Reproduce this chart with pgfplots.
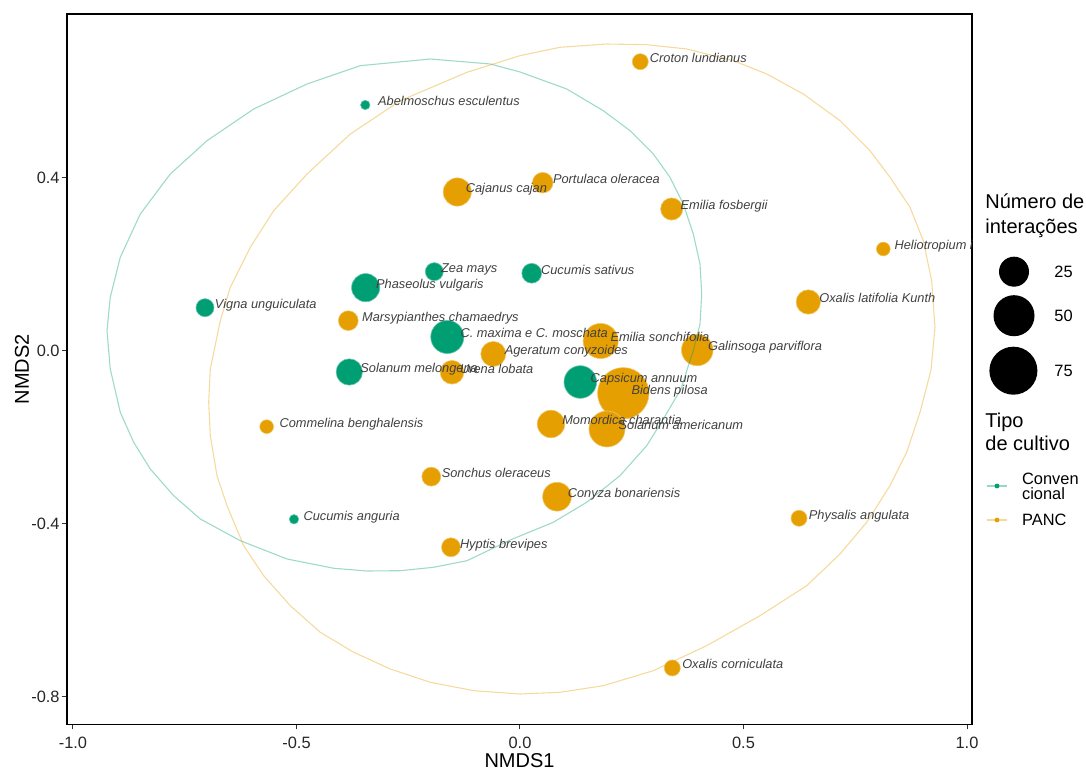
\documentclass[border=0pt]{standalone}
\usepackage{pgfplots}
\pgfplotsset{compat=1.18}
\usepackage{pgfplotstable}
\usepackage{fontspec}
\setmainfont{Liberation Sans}
\definecolor{conv}{HTML}{009E73}
\definecolor{panc}{HTML}{E69F00}
\newcommand\hj[1]{\setbox0\hbox{#1}\hspace*{0.07\wd0}\box0}

\pgfplotstableread[col sep=comma]{
x,y,n,label
-0.3461,0.5688,1,Abelmoschus esculentus
-0.1917,0.1834,8,Zea mays
0.0262,0.1797,10,Cucumis sativus
-0.3452,0.1464,22,Phaseolus vulgaris
-0.7047,0.1001,8,Vigna unguiculata
-0.1626,0.0324,31,C. maxima e C. moschata
-0.3819,-0.0486,19,Solanum melongena
0.1349,-0.0717,30,Capsicum annuum
-0.5056,-0.3891,1,Cucumis anguria
}\conv

\pgfplotstableread[col sep=comma]{
x,y,n,label
0.2691,0.6689,6,Croton lundianus
-0.1403,0.3676,22,Cajanus cajan
0.0508,0.3891,11,Portulaca oleracea
0.3394,0.3283,13,Emilia fosbergii
0.8128,0.2358,4,Heliotropium indicum
0.6450,0.1133,16,Oxalis latifolia Kunth
-0.3841,0.0701,10,Marsypianthes chamaedrys
0.1805,0.0231,35,Emilia sonchifolia
0.3966,0.0023,28,Galinsoga parviflora
-0.0597,-0.0069,17,Ageratum conyzoides
-0.1521,-0.0492,15,Urena lobata
0.2311,-0.0978,77,Bidens pilosa
-0.5667,-0.1750,4,Commelina benghalensis
0.0694,-0.1688,21,Momordica charantia
0.1946,-0.1803,37,Solanum americanum
-0.1984,-0.2906,9,Sonchus oleraceus
0.0828,-0.3369,23,Conyza bonariensis
0.6242,-0.3868,6,Physalis angulata
-0.1544,-0.4539,9,Hyptis brevipes
0.3407,-0.7329,6,Oxalis corniculata
}\panc

\pgfplotstableread{
x y
-0.2007 0.6751
-0.3573 0.6597
-0.4765 0.6173
-0.5957 0.5595
-0.7002 0.4862
-0.7823 0.4092
-0.8494 0.3168
-0.8942 0.2166
-0.9166 0.1242
-0.9239 0.0469
-0.9166 -0.0416
-0.8942 -0.1417
-0.8642 -0.2111
-0.8271 -0.2728
-0.7747 -0.3346
-0.7152 -0.3884
-0.6257 -0.4386
-0.5213 -0.4809
-0.4168 -0.5024
-0.3423 -0.5087
-0.2678 -0.5080
-0.1931 -0.5001
-0.1186 -0.4849
-0.0217 -0.4369
0.0745 -0.3961
0.1492 -0.3498
0.2237 -0.2883
0.2834 -0.2190
0.3206 -0.1572
0.3602 -0.0879
0.3736 -0.0439
0.3877 0.0007
0.4027 0.0624
0.4065 0.1318
0.4027 0.2012
0.3877 0.2705
0.3653 0.3399
0.3356 0.4016
0.2982 0.4555
0.2461 0.5094
0.1864 0.5556
0.1045 0.6058
0.0000 0.6451
-0.0664 0.6636
-0.2007 0.6751
}\ellconv

\pgfplotstableread{
x y
0.1940 0.7098
0.2834 0.7082
0.3729 0.6983
0.4772 0.6712
0.5519 0.6405
0.6338 0.5942
0.7159 0.5325
0.7830 0.4631
0.8277 0.4016
0.8725 0.3323
0.9022 0.2550
0.9210 0.1625
0.9284 0.0548
0.9195 -0.0439
0.8949 -0.1417
0.8651 -0.2342
0.8277 -0.3114
0.7756 -0.3961
0.7159 -0.4694
0.6414 -0.5427
0.5369 -0.6120
0.4177 -0.6814
0.2982 -0.7392
0.1864 -0.7739
0.0895 -0.7891
0.0000 -0.7931
-0.1036 -0.7854
-0.2007 -0.7660
-0.2902 -0.7353
-0.3720 -0.6966
-0.4468 -0.6504
-0.5139 -0.5889
-0.5734 -0.5195
-0.6181 -0.4502
-0.6555 -0.3577
-0.6779 -0.2883
-0.6928 -0.1958
-0.6964 -0.1186
-0.6928 -0.0416
-0.6705 0.0701
-0.6481 0.1473
-0.6034 0.2398
-0.5510 0.3244
-0.4765 0.4092
-0.3796 0.5017
-0.2678 0.5787
-0.1186 0.6444
0.0000 0.6828
0.0895 0.7022
0.1940 0.7098
}\ellpanc

\begin{document}
\begin{tikzpicture}
\useasboundingbox (-33.5pt,-22.75pt) rectangle (509.5pt,362.25pt);
\begin{axis}[
  scale only axis,
  width=452.5pt, height=355.25pt,
  xmin=-1.0134, xmax=1.0112,
  ymin=-0.8636, ymax=0.7792,
  xtick={-1,-0.5,0,0.5,1},
  xticklabels={-1.0,-0.5,0.0,0.5,1.0},
  ytick={-0.8,-0.4,0,0.4},
  yticklabels={-0.8,-0.4,0.0,0.4},
  tick pos=left,
  tick align=outside,
  major tick length=2.5pt,
  tick style={black!80, line width=0.5pt},
  axis line style={black, line width=0.6pt},
  ticklabel style={font=\fontsize{8.2}{9}\selectfont, text=black!85},
  xticklabel style={anchor=base, inner sep=0pt, yshift=-9.7pt},
  yticklabel style={anchor=east, inner sep=0pt, xshift=-1pt},
  clip marker paths=true,
  clip mode=global,
]
\addplot[scatter, only marks, mark=*, point meta=\thisrow{n},
  scatter/use mapped color={draw=conv!60!white, fill=conv},
  mark options={line width=0.3pt},
  visualization depends on={\thisrow{n} \as \ninter},
  scatter/@pre marker code/.append style={/tikz/mark size={0.5*sqrt(14+8.4*\ninter)}}]
  table[x=x,y=y]{\conv};
\addplot[scatter, only marks, mark=*, point meta=\thisrow{n},
  scatter/use mapped color={draw=panc!60!white, fill=panc},
  mark options={line width=0.3pt},
  visualization depends on={\thisrow{n} \as \ninter},
  scatter/@pre marker code/.append style={/tikz/mark size={0.5*sqrt(14+8.4*\ninter)}}]
  table[x=x,y=y]{\panc};
\addplot[conv, draw opacity=0.38, line width=0.55pt, mark=none] table[x=x,y=y]{\ellconv};
\addplot[panc, draw opacity=0.38, line width=0.55pt, mark=none] table[x=x,y=y]{\ellpanc};
\addplot[draw=none, mark=none,
  point meta=explicit symbolic,
  nodes near coords={\hj{\pgfplotspointmeta}},
  every node near coord/.append style={anchor=west, inner sep=0pt, xshift=1.25pt, yshift=2.5pt,
    text height=1.55ex, text depth=0.45ex,
    font=\fontsize{6.4}{7}\selectfont\itshape, text=black!75}]
  table[x=x,y=y,meta=label]{\conv};
\addplot[draw=none, mark=none,
  point meta=explicit symbolic,
  nodes near coords={\hj{\pgfplotspointmeta}},
  every node near coord/.append style={anchor=west, inner sep=0pt, xshift=1.25pt, yshift=2.5pt,
    text height=1.55ex, text depth=0.45ex,
    font=\fontsize{6.4}{7}\selectfont\itshape, text=black!75}]
  table[x=x,y=y,meta=label]{\panc};
\end{axis}
% axis titles
\node[font=\fontsize{10}{12}\selectfont, anchor=base] at (226.25pt,-21.35pt) {NMDS1};
\node[font=\fontsize{10}{12}\selectfont, rotate=90, anchor=center, inner sep=0pt] at (-22.5pt,177.6pt) {NMDS2};
% legend: size
\begin{scope}[font=\fontsize{10}{12}\selectfont]
\node[anchor=base west, inner sep=0pt] at (459pt,257.8pt) {Número de};
\node[anchor=base west, inner sep=0pt] at (459pt,245.3pt) {interações};
\node[anchor=base west, inner sep=0pt] at (459pt,148.65pt) {Tipo};
\node[anchor=base west, inner sep=0pt] at (459pt,137pt) {de cultivo};
\end{scope}
\fill[black] (473.5pt,226.4pt) circle (7.5pt);
\fill[black] (473.5pt,204.4pt) circle (10.25pt);
\fill[black] (473.2pt,176.9pt) circle (12pt);
\begin{scope}[font=\fontsize{8.2}{9}\selectfont]
\node[anchor=base west, inner sep=0pt] at (493.5pt,223.45pt) {25};
\node[anchor=base west, inner sep=0pt] at (493.5pt,201.45pt) {50};
\node[anchor=base west, inner sep=0pt] at (493.5pt,173.95pt) {75};
\node[anchor=base west, inner sep=0pt] at (477.35pt,120.15pt) {Conven};
\node[anchor=base west, inner sep=0pt] at (477.35pt,112.65pt) {cional};
\node[anchor=base west, inner sep=0pt] at (477.35pt,99.3pt) {PANC};
\end{scope}
\draw[conv, draw opacity=0.4, line width=0.55pt] (459.85pt,119.25pt) -- (470.15pt,119.25pt);
\fill[conv] (465pt,119.25pt) circle (1.2pt);
\draw[panc, draw opacity=0.4, line width=0.55pt] (459.85pt,102.25pt) -- (470.15pt,102.25pt);
\fill[panc] (465pt,102.25pt) circle (1.2pt);
\end{tikzpicture}
\end{document}
